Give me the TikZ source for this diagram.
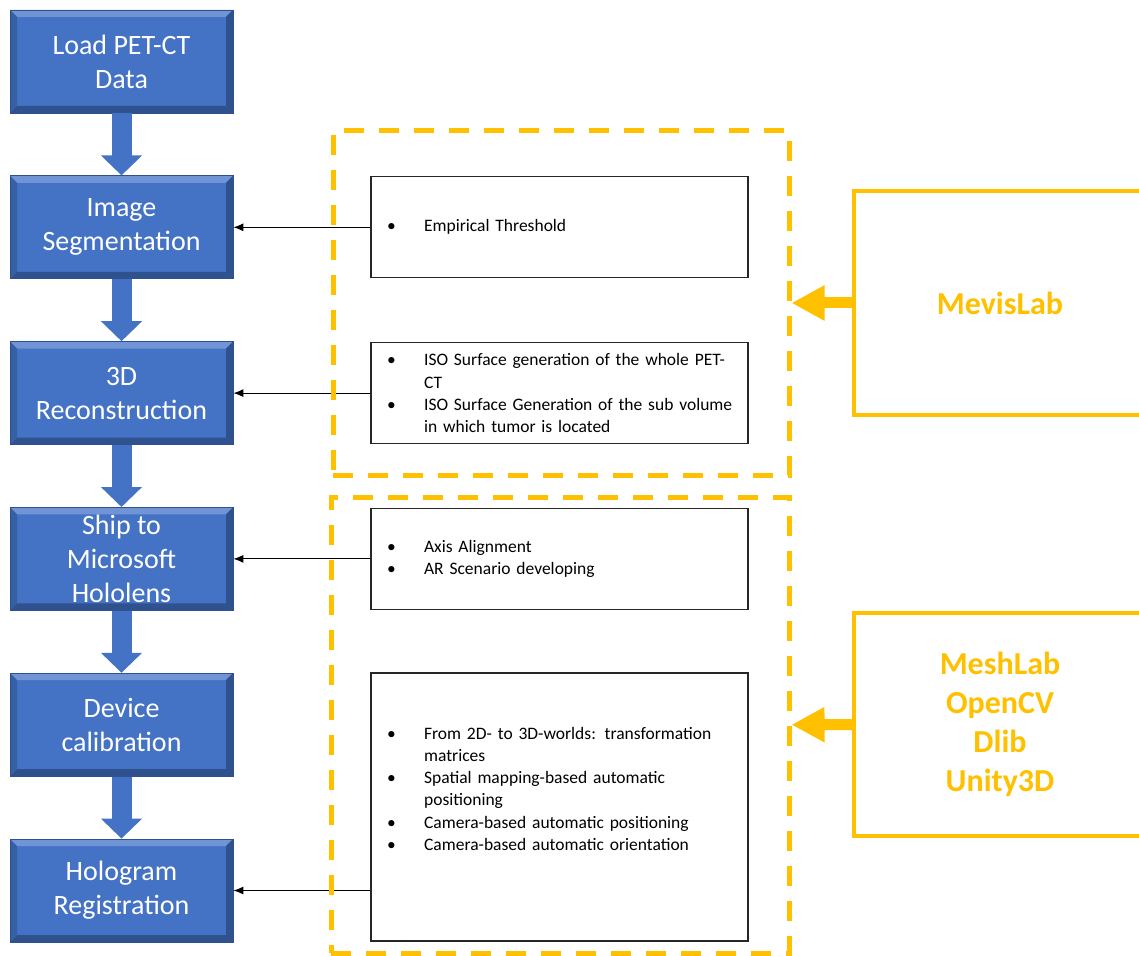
\documentclass[tikz,border=0pt]{standalone}
\usepackage{fontspec}
\setmainfont{Carlito}
\usetikzlibrary{positioning,arrows.meta}
\definecolor{blu}{RGB}{68,114,196}
\definecolor{bludk}{RGB}{47,82,143}
\definecolor{blult}{RGB}{112,148,214}
\definecolor{ylw}{RGB}{255,192,0}
\newcommand{\bul}{\hspace*{8pt}\makebox[18.5pt][l]{\textbullet}}
\newcommand{\hang}{\hspace*{26.5pt}}

\begin{document}
\begin{tikzpicture}[x=0.5pt,y=-0.5pt,
  stage/.style={draw=bludk,fill=blu,text=white,minimum width=111.5pt,minimum height=51.5pt,inner ysep=0pt,align=center,
    font=\fontsize{14}{17}\selectfont,
    path picture={
      \fill[blult] (path picture bounding box.north west) -- (path picture bounding box.north east)
        -- ([shift={(-3.5pt,-3.5pt)}]path picture bounding box.north east) -- ([shift={(3.5pt,-3.5pt)}]path picture bounding box.north west) -- cycle;
      \fill[bludk] (path picture bounding box.south west) -- (path picture bounding box.south east)
        -- ([shift={(-3.5pt,3.5pt)}]path picture bounding box.south east) -- ([shift={(3.5pt,3.5pt)}]path picture bounding box.south west) -- cycle;
      \fill[bludk] (path picture bounding box.north east) -- (path picture bounding box.south east)
        -- ([shift={(-3.5pt,3.5pt)}]path picture bounding box.south east) -- ([shift={(-3.5pt,-3.5pt)}]path picture bounding box.north east) -- cycle;
      \fill[bludk!60!blu] (path picture bounding box.north west) -- (path picture bounding box.south west)
        -- ([shift={(3.5pt,3.5pt)}]path picture bounding box.south west) -- ([shift={(3.5pt,-3.5pt)}]path picture bounding box.north west) -- cycle;
    }},
  info/.style={draw=black!85,line width=0.7pt,minimum height=50.5pt,text width=188.5pt,inner xsep=0pt,inner ysep=2pt,align=left,
    font=\fontsize{8.75}{11.1}\selectfont},
  grp/.style={draw=ylw,line width=2.5pt,dash pattern=on 10pt off 7.5pt},
  tool/.style={draw=ylw,line width=2pt,minimum width=146pt,minimum height=112pt,text=ylw,align=center,
    font=\bfseries\fontsize{16}{19.5}\selectfont},
  flow/.style={blu,line width=10pt,-{Triangle[width=20pt,length=10pt]}},
  feed/.style={ylw,line width=5.5pt,-{Triangle[width=16.5pt,length=16.5pt]}},
  tie/.style={black,line width=0.5pt,-{Latex[length=5pt,width=4pt]}}]
  \useasboundingbox (0,0) rectangle (1139,956);
  % pipeline
  \node[stage] (load) at (121.5,61.5) {Load PET-CT\\Data};
  \node[stage,below=31pt of load] (seg) {Image\\Segmentation};
  \node[stage,below=31pt of seg] (recon) {3D\\Reconstruction};
  \node[stage,below=31pt of recon] (ship) {Ship to\\Microsoft\\Hololens};
  \node[stage,below=31pt of ship] (calib) {Device\\calibration};
  \node[stage,below=31pt of calib] (reg) {Hologram\\Registration};
  \foreach \a/\b in {load/seg,seg/recon,recon/ship,ship/calib,calib/reg}
    \draw[flow] (\a) -- (\b);
  % details
  \node[info,right=68.5pt of seg] (thr) {\bul Empirical Threshold};
  \node[info,right=68.5pt of recon] (iso) {\bul ISO Surface generation of the whole PET-\\\hang CT\\
    \bul ISO Surface Generation of the sub volume\\\hang in which tumor is located};
  \node[info,right=68.5pt of ship] (axis) {\bul Axis Alignment\\\bul AR Scenario developing};
  \node[info,below=31pt of axis,minimum height=134pt] (wrld) {};
  \node[info,draw=none,anchor=west] (wrldtxt) at ([yshift=9pt]wrld.west)
    {\bul From 2D- to 3D-worlds: transformation\\\hang matrices\\
     \bul Spatial mapping-based automatic\\\hang positioning\\
     \bul Camera-based automatic positioning\\
     \bul Camera-based automatic orientation};
  \draw[tie] (thr) -- (seg);
  \draw[tie] (iso) -- (recon);
  \draw[tie] (axis) -- (ship);
  \draw[tie] (wrld.west |- reg) -- (reg);
  % groups and tools
  \node[grp,minimum width=228pt,minimum height=172pt] (seggrp) at (561,303) {};
  \node[grp,minimum width=229pt,minimum height=228pt] (argrp) at (560,725) {};
  \node[tool] (mevis) at (1000,303) {MevisLab};
  \node[tool,minimum height=111.5pt] (libs) at (1000,724.5) {MeshLab\\OpenCV\\Dlib\\Unity3D};
  \draw[feed] (mevis) -- (seggrp);
  \draw[feed] (libs) -- (argrp);
\end{tikzpicture}
\end{document}
